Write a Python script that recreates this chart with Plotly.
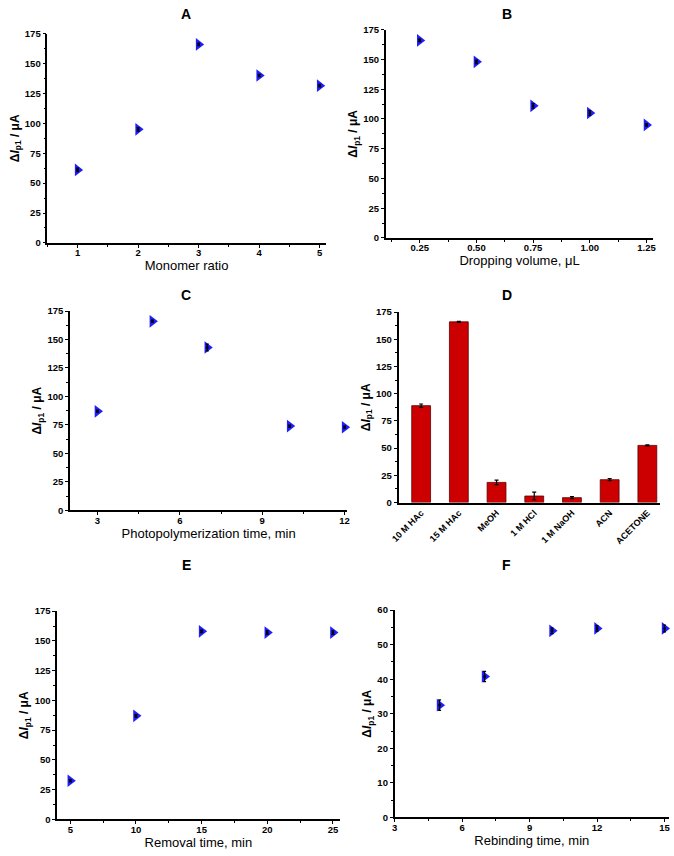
import plotly.graph_objects as go

W, H = 674, 856

# ---------------- data ----------------
a_x = [1, 2, 3, 4, 5]
a_y = [61, 95, 166, 140, 131.5]
a_err = [1.5, 1.5, 1.0, 1.0, 1.0]

b_x = [0.25, 0.50, 0.75, 1.00, 1.25]
b_y = [166, 148, 111, 105, 95]
b_err = [1.0, 1.5, 2.0, 2.0, 1.0]

c_x = [3, 5, 7, 10, 12]
c_y = [87, 166, 143, 74, 73]
c_err = [1.0, 1.0, 3.0, 1.0, 1.0]

d_cat = ["10 M HAc", "15 M HAc", "MeOH", "1 M HCl", "1 M NaOH", "ACN", "ACETONE"]
d_y = [89, 166, 18.5, 6, 4.5, 21, 52.5]
d_err = [1.5, 0.5, 2.0, 3.5, 1.0, 1.0, 0.5]

e_x = [5, 10, 15, 20, 25]
e_y = [32.5, 87, 158, 157, 157]
e_err = [1.0, 1.0, 1.0, 1.5, 1.5]

f_x = [5, 7, 10, 12, 15]
f_y = [32.5, 40.8, 54, 54.7, 54.7]
f_err = [1.5, 1.5, 0.8, 0.8, 1.0]

# ---------------- layout helpers ----------------
BLUE = "#1E1EFF"
RED = "#CC0000"
FONT = "Liberation Sans, Arial, sans-serif"

panels = {
    "A": (40, 323, 28, 240),
    "B": (384, 656, 24, 235),
    "C": (63, 345, 309, 511),
    "D": (397, 663, 310, 503),
    "E": (50, 337, 613, 824),
    "F": (393, 672, 612, 822),
}


def xd(p0, p1):
    return [p0 / W, p1 / W]


def yd(top, bot):
    return [1 - bot / H, 1 - top / H]


fig = go.Figure()

scatter_sets = [
    ("A", a_x, a_y, a_err, ""),
    ("B", b_x, b_y, b_err, "2"),
    ("C", c_x, c_y, c_err, "3"),
    ("E", e_x, e_y, e_err, "5"),
    ("F", f_x, f_y, f_err, "6"),
]

for name, xs, ys, es, s in scatter_sets:
    fig.add_trace(go.Scatter(
        x=xs, y=ys, mode="markers",
        marker=dict(symbol="triangle-right", size=11, color=BLUE, line=dict(width=0)),
        xaxis="x" + s, yaxis="y" + s, showlegend=False, cliponaxis=False,
    ))
    fig.add_trace(go.Scatter(
        x=xs, y=ys, mode="markers",
        marker=dict(symbol="square", size=2.5, color="black", line=dict(width=0)),
        error_y=dict(type="data", array=es, color="black", thickness=1.2, width=1.5),
        xaxis="x" + s, yaxis="y" + s, showlegend=False, cliponaxis=False,
    ))

fig.add_trace(go.Bar(
    x=d_cat, y=d_y, width=0.5,
    marker=dict(color=RED, line=dict(color="#5a0000", width=0.8)),
    error_y=dict(type="data", array=d_err, color="black", thickness=1.2, width=2),
    xaxis="x4", yaxis="y4", showlegend=False,
))

tickfont = dict(family=FONT, size=9.5, color="black", weight="bold")
base_axis = dict(
    showline=True, linecolor="black", linewidth=1.5, mirror=False,
    ticks="outside", ticklen=3, tickwidth=1.2, tickcolor="black",
    showgrid=False, zeroline=False, tickfont=tickfont,
)


def minor(dt):
    return dict(dtick=dt, ticks="outside", ticklen=2, tickwidth=1, tickcolor="black", showgrid=False)


ytitle = "<b>Δ<i>I</i><sub>p1</sub> / μA</b>"
ytitle_font = dict(family=FONT, size=12, color="black")
xtitle_font = dict(family=FONT, size=13, color="black")

axes_cfg = {
    "A": dict(xr=[0.5, 5.1], xdt=1, xmin=0.5, xtitle="Monomer ratio", yr=[0, 175], ydt=25, ymin=12.5, xfmt=None),
    "B": dict(xr=[0.1, 1.28], xdt=0.25, xmin=0.125, xtitle="Dropping volume, μL", yr=[0, 175], ydt=25, ymin=12.5, xfmt=".2f"),
    "C": dict(xr=[2, 12.1], xdt=3, xmin=1.5, xtitle="Photopolymerization time, min", yr=[0, 175], ydt=25, ymin=12.5, xfmt=None),
    "E": dict(xr=[4, 25.5], xdt=5, xmin=2.5, xtitle="Removal time, min", yr=[0, 175], ydt=25, ymin=12.5, xfmt=None),
    "F": dict(xr=[3, 15.2], xdt=3, xmin=1.5, xtitle="Rebinding time, min", yr=[0, 60], ydt=10, ymin=5, xfmt=None),
}
suffix = {"A": "", "B": "2", "C": "3", "D": "4", "E": "5", "F": "6"}

lay = {}
for name, cfg in axes_cfg.items():
    x0, x1, yt, yb = panels[name]
    s = suffix[name]
    xa = dict(base_axis, domain=xd(x0, x1), range=cfg["xr"], tick0=0, dtick=cfg["xdt"],
              minor=minor(cfg["xmin"]), anchor="y" + s, ticklabelstandoff=-3,
              title=dict(text=cfg["xtitle"], font=xtitle_font, standoff=4))
    if cfg["xfmt"]:
        xa["tickformat"] = cfg["xfmt"]
    ya = dict(base_axis, domain=yd(yt, yb), range=cfg["yr"], tick0=0, dtick=cfg["ydt"],
              minor=minor(cfg["ymin"]), anchor="x" + s,
              title=dict(text=ytitle, font=ytitle_font, standoff=3))
    lay["xaxis" + s] = xa
    lay["yaxis" + s] = ya

# Panel D (categorical)
x0, x1, yt, yb = panels["D"]
lay["xaxis4"] = dict(base_axis, domain=xd(x0, x1), range=[-0.6, 6.34], anchor="y4",
                     ticks="", tickangle=-45, tickfont=dict(family=FONT, size=9, color="black", weight="bold"))
lay["yaxis4"] = dict(base_axis, domain=yd(yt, yb), range=[0, 175], tick0=0, dtick=25,
                     minor=minor(12.5), anchor="x4",
                     title=dict(text=ytitle, font=ytitle_font, standoff=3))

fig.update_layout(**lay)

letters = [("A", 181, 8), ("B", 507, 8), ("C", 181, 293), ("D", 507, 293), ("E", 181, 566), ("F", 507, 566)]
for t, px, py in letters:
    fig.add_annotation(text="<b>%s</b>" % t, x=px / W, y=1 - py / H, xref="paper", yref="paper",
                       showarrow=False, font=dict(family=FONT, size=14, color="black"),
                       xanchor="center", yanchor="middle")

fig.update_layout(
    width=W, height=H, margin=dict(l=0, r=0, t=0, b=0),
    paper_bgcolor="white", plot_bgcolor="white",
    font=dict(family=FONT, color="black"), bargap=0.5,
)

fig.write_html("out.html")
